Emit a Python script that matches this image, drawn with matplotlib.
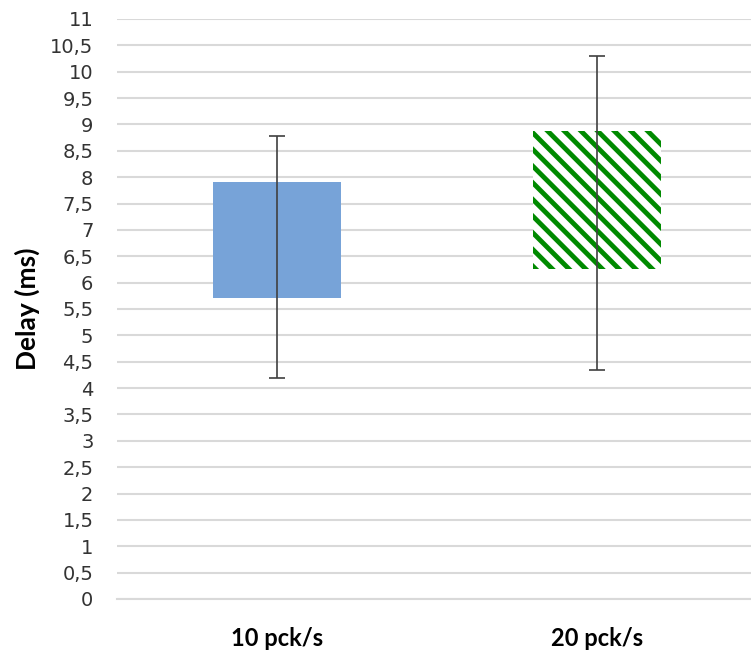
# Recreate the floating bar chart of delay per packet rate.
import numpy as np
import matplotlib.pyplot as plt

# Category labels on the x axis.
categories = ["10 pck/s", "20 pck/s"]

# Bottom and top of each floating bar (ms).
bar_low = [5.7, 6.26]
bar_high = [7.9, 8.88]

# Whisker ends (ms).
whisker_low = [4.2, 4.34]
whisker_high = [8.78, 10.3]

# Y tick values.
y_ticks = np.arange(0, 11.01, 0.5)

plt.rcParams["hatch.linewidth"] = 3.5
plt.rcParams["hatch.color"] = "#008a00"

fig = plt.figure(figsize=(7.51, 6.54), dpi=100)
ax = fig.add_axes([117 / 751, 1 - 599 / 654, 1 - 117 / 751, (599 - 19) / 654])

x = np.arange(len(categories))
heights = [h - l for h, l in zip(bar_high, bar_low)]

# First bar solid blue.
ax.bar(x[0], heights[0], bottom=bar_low[0], width=0.4, color="#77a3d8", zorder=2)

# Second bar green diagonal stripes.
ax.bar(x[1], heights[1], bottom=bar_low[1], width=0.4, facecolor="white",
       edgecolor="#008a00", linewidth=0, hatch="\\\\", zorder=2)

# Whiskers through the bar centres.
mid = [(h + l) / 2 for h, l in zip(whisker_high, whisker_low)]
err = [(h - l) / 2 for h, l in zip(whisker_high, whisker_low)]
ax.errorbar(x, mid, yerr=err, fmt="none", ecolor="#404040", elinewidth=1.2,
            capsize=6, capthick=1.2, zorder=3)

ax.set_ylim(0, 11)
ax.set_xlim(-0.5, 1.48)
ax.set_yticks(y_ticks)
ax.set_yticklabels([("%g" % v).replace(".", ",") for v in y_ticks],
                   fontsize=14, family="DejaVu Sans", color="#333333")
ax.set_xticks(x)
ax.set_xticklabels(categories, fontsize=17, fontweight="bold", family="Lato")
ax.tick_params(axis="both", length=0)
ax.tick_params(axis="y", pad=17)
ax.tick_params(axis="x", pad=20)

ax.yaxis.grid(True, color="#d9d9d9", linewidth=1.5, zorder=0)
ax.set_axisbelow(True)
for s in ["left", "right", "top"]:
    ax.spines[s].set_visible(False)
ax.spines["bottom"].set_color("#d9d9d9")
ax.spines["bottom"].set_linewidth(1.5)

ax.set_ylabel("Delay (ms)", fontsize=19, fontweight="bold", family="Lato", labelpad=7)

fig.savefig("out.png", dpi=100)
